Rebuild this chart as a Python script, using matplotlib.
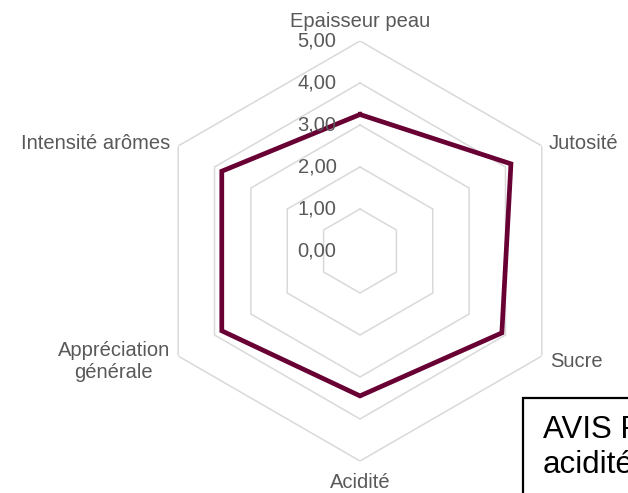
import numpy as np
import matplotlib
matplotlib.use("Agg")
import matplotlib.pyplot as plt
from matplotlib.patches import Rectangle

plt.rcParams['font.family'] = ['Liberation Sans', 'DejaVu Sans']

categories = ["Epaisseur peau", "Jutosité", "Sucre", "Acidité",
              "Appréciation\ngénérale", "Intensité arômes"]
scores = [3.25, 4.15, 3.9, 3.45, 3.8, 3.8]
rings = [0, 1, 2, 3, 4, 5]
ring_labels = ["0,00", "1,00", "2,00", "3,00", "4,00", "5,00"]

W, H = 628, 493
fig = plt.figure(figsize=(W / 100, H / 100), dpi=100)
cx, cy, R = 360, 251, 210
ax = fig.add_axes([(cx - R) / W, (H - cy - R) / H, 2 * R / W, 2 * R / H],
                  projection='polar')
ax.set_theta_zero_location('N')
ax.set_theta_direction(-1)
ax.set_ylim(0, 5)
ax.axis('off')

n = len(categories)
theta = np.arange(n) * 2 * np.pi / n
theta_closed = np.append(theta, theta[0])

grid_color = '#D9D9D9'
for r in rings[1:]:
    ax.plot(theta_closed, [r] * (n + 1), color=grid_color, lw=1.1,
            solid_joinstyle='miter', zorder=1)

vals = np.append(scores, scores[0])
ax.plot(theta_closed, vals, color='#680034', lw=3.4,
        solid_joinstyle='miter', zorder=3)

text_color = '#595959'
fs = 14.5
for r, lab in zip(rings, ring_labels):
    ax.annotate(lab, xy=(0, r), xytext=(-17, 0), textcoords='offset points',
                ha='right', va='center', fontsize=fs, color=text_color,
                zorder=4)

offsets = [(0, 7, 'center', 'bottom'),
           (5, 2, 'left', 'center'),
           (6, -4, 'left', 'center'),
           (0, -9, 'center', 'top'),
           (-6, -4, 'right', 'center'),
           (-6, 2, 'right', 'center')]
for t, lab, (dx, dy, ha, va) in zip(theta, categories, offsets):
    ax.annotate(lab, xy=(t, 5), xytext=(dx, dy), textcoords='offset points',
                ha=ha, va=va, multialignment='center', fontsize=fs,
                color=text_color, linespacing=1.2, annotation_clip=False)

# note box in the lower-right corner, running off the figure edge
box = Rectangle((523 / W, -0.05), 0.5, (H - 398) / H + 0.05,
                transform=fig.transFigure, facecolor='white',
                edgecolor='black', lw=1.6, zorder=10)
fig.patches.append(box)
fig.text(543 / W, 1 - 438 / H, "AVIS F", fontsize=22.5, color='black',
         ha='left', va='baseline', zorder=11)
fig.text(543 / W, 1 - 473 / H, "acidité", fontsize=22.5, color='black',
         ha='left', va='baseline', zorder=11)

fig.savefig("out.png", dpi=100)
